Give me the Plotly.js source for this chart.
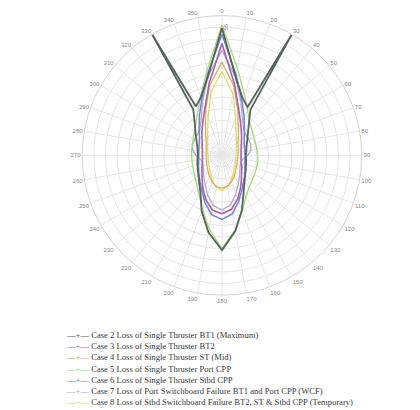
<!DOCTYPE html>
<html><head><meta charset="utf-8">
<script src="https://cdn.plot.ly/plotly-3.0.1.min.js"></script>
<style>html,body{margin:0;padding:0;background:#fff}#chart{width:420px;height:410px}</style>
</head><body><div id="chart"></div>
<script>
// Headings (deg) shared by most cases
const THETA = [0,10,20,30,40,50,60,70,80,90,100,110,120,130,140,150,160,170,180,190,200,210,220,230,240,250,260,270,280,290,300,310,320,330,340,350,360];

// Case 2 has off-scale spikes near 30 / 330 deg
const THETA_CASE2 = [0,10,20,28,30,32,40,50,60,70,80,90,100,110,120,130,140,150,160,170,180,190,200,210,220,230,240,250,260,270,280,290,300,310,320,328,330,332,340,350,360];
const CASE2 = [54.7,34,26,23.5,60,23,18,14.5,12.5,11.2,10.6,10.3,10.5,11,11.8,13,15,18.5,25,33,40.7,33.5,25.5,18.5,15.2,13.2,12,11.2,10.7,10.4,10.6,11.3,12.6,14.8,18.2,23.2,60,23.8,26.5,34.5,54.7];
const CASE3 = [48,31,21,16,13,11,9.6,8.8,8.3,8.2,8.3,8.8,9.8,11,13,16,19.8,23.5,25,23.8,20.2,16.4,13.3,11.2,9.9,9.0,8.5,8.4,8.5,9.0,9.8,11.2,13.4,16.5,21.5,31.5,48];
const CASE4 = [40,30,20,14,11,9,8,7.4,7,6.8,6.8,7,7.4,8,9,10.5,12,13.5,14,13.6,12.2,10.6,9.2,8.2,7.5,7.1,6.9,6.8,6.9,7.2,7.8,8.8,10.8,14.2,20.5,30.5,40];
const CASE5 = [56,38,28,22,18.5,16.8,15.8,15.3,15.2,15.4,15.6,15.8,16.2,16.8,18,20.5,25.5,32.5,40,32,24.5,19.5,16.8,15,14,13.4,13.1,13,13.2,13.6,14.2,15.5,17.5,21,27,37,56];
const CASE6 = [52,35,25,19,15,12.5,11,10.3,10,9.9,10,10.5,11.4,12.8,14.5,17,21,25.5,27.5,25.8,21.5,17.3,14.7,12.9,11.6,10.7,10.2,10,10.1,10.5,11.2,12.6,15.2,19.4,25.5,35.5,52];
const CASE7 = [45,34,24,17.5,14.5,13.5,13.3,13.2,12.6,11,9.2,8.6,9,10,11.8,14,17.5,21.5,23.5,21.8,18,14.4,12.2,10.3,9.2,8.8,9.4,11.2,12.8,13.4,13.6,13.8,14.8,17.8,24.5,34.5,45];
const CASE8 = [36,27,17,12,9.5,8,7,6.5,6.2,6,6,6.2,6.6,7.2,8,9.5,11.5,13.5,15,13.8,11.8,9.7,8.2,7.3,6.7,6.3,6.1,6,6.2,6.6,7.1,8.1,9.6,12.3,17.5,27.5,36];

const NAMES = [
  "Case 2 Loss of Single Thruster BT1 (Maximum)",
  "Case 3 Loss of Single Thruster BT2",
  "Case 4 Loss of Single Thruster ST (Mid)",
  "Case 5 Loss of Single Thruster Port CPP",
  "Case 6 Loss of Single Thruster Stbd CPP",
  "Case 7 Loss of Port Switchboard Failure BT1 and Port CPP (WCF)",
  "Case 8 Loss of Stbd Switchboard Failure BT2, ST & Stbd CPP (Temporary)"
];
const COLORS = ["#55635d","#a463a8","#e8a95a","#a9d67e","#7482d6","#b4aac8","#d6df6f"];

const ANG_TICKS = [0,10,20,30,40,50,60,70,80,90,100,110,120,130,140,150,160,170,180,190,200,210,220,230,240,250,260,270,280,290,300,310,320,330,340,350];
const RAD_TICKS = [5,10,15,20,25,30,35,40,45,50,55,60];
const RAD_LABELS = ["","","","","","","","","","","55",""];

function tr(theta, r, i, w) {
  return {type:"scatterpolar", mode:"lines", theta:theta, r:r, name:NAMES[i],
          line:{color:COLORS[i], width:w}, showlegend:false, hoverinfo:"skip"};
}
const data = [
  tr(THETA, CASE7, 5, 1.3),
  tr(THETA, CASE5, 3, 1.3),
  tr(THETA, CASE8, 6, 1.3),
  tr(THETA, CASE4, 2, 1.3),
  tr(THETA, CASE6, 4, 1.5),
  tr(THETA, CASE3, 1, 1.6),
  tr(THETA_CASE2, CASE2, 0, 1.8)
];

const legendText = NAMES.map((n,i)=>'<span style="color:'+COLORS[i]+'">—+—</span> '+n).join('<br>');

const layout = {
  width:420, height:410,
  margin:{l:0,r:0,t:0,b:0},
  paper_bgcolor:"#fff",
  showlegend:false,
  font:{family:"Liberation Sans, Arial, sans-serif"},
  polar:{
    domain:{x:[0.195,0.862], y:[0.28,0.962]},
    bgcolor:"#fff",
    angularaxis:{rotation:90, direction:"clockwise", tickmode:"array", tickvals:ANG_TICKS,
      ticks:"", tickfont:{size:6, color:"#8a8a8a"}, gridcolor:"#e6e6e6", linecolor:"#d4d4d4", linewidth:1},
    radialaxis:{range:[0,60], angle:90, tickmode:"array", tickvals:RAD_TICKS, ticktext:RAD_LABELS,
      ticks:"", tickfont:{size:6, color:"#8a8a8a"}, gridcolor:"#e6e6e6", showline:false, tickangle:0}
  },
  annotations:[{
    xref:"paper", yref:"paper", x:0.152, y:0.2, xanchor:"left", yanchor:"top", align:"left",
    showarrow:false, text:legendText,
    font:{family:"Liberation Serif, Times New Roman, serif", size:8.6, color:"#3a3a3a"}
  }]
};
Plotly.newPlot("chart", data, layout, {displayModeBar:false, staticPlot:true});
</script>
</body></html>
